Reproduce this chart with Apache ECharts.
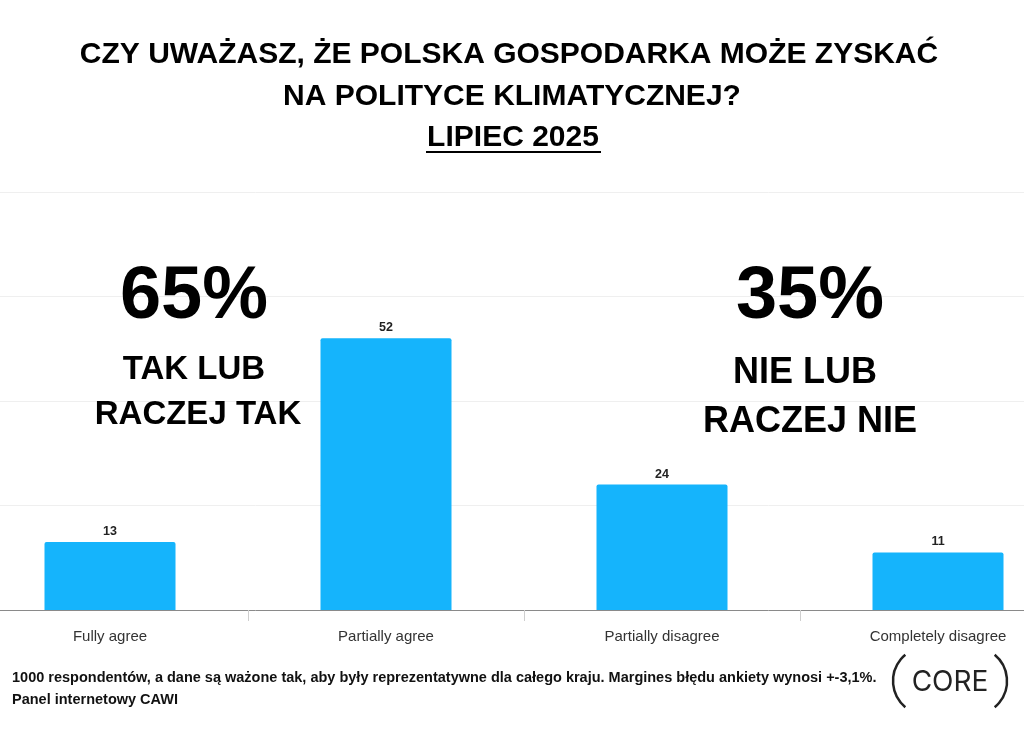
<!DOCTYPE html>
<html>
<head>
<meta charset="utf-8">
<script src="https://cdn.jsdelivr.net/npm/echarts@6/dist/echarts.min.js"></script>
<style>
  html, body { margin: 0; padding: 0; background: #fff; }
  #chart { width: 1024px; height: 734px; }
</style>
</head>
<body>
<div id="chart"></div>
<script>
// odpowiedzi i wartości (%)
var categories = ['Fully agree', 'Partially agree', 'Partially disagree', 'Completely disagree'];
var values = [13, 52, 24, 11];
var titleLines = ['CZY UWAŻASZ, ŻE POLSKA GOSPODARKA MOŻE ZYSKAĆ', 'NA POLITYCE KLIMATYCZNEJ?', 'LIPIEC 2025'];
var leftSummary = ['65%', 'TAK LUB', 'RACZEJ TAK'];
var rightSummary = ['35%', 'NIE LUB', 'RACZEJ NIE'];
var footerLines = ['1000 respondentów, a dane są ważone tak, aby były reprezentatywne dla całego kraju. Margines błędu ankiety wynosi +-3,1%.', 'Panel internetowy CAWI'];
var brand = 'CORE';

var FONT = '"Liberation Sans", Arial, sans-serif';

function textEl(txt, x, y, size, align) {
    return {
        type: 'text',
        x: x,
        y: y,
        style: {
            text: txt,
            fill: '#000',
            fontSize: size,
            fontWeight: 'bold',
            fontFamily: FONT,
            textAlign: align || 'center',
            textVerticalAlign: 'middle'
        },
        z: 10
    };
}

var graphics = [
    textEl(titleLines[0], 509, 55, 30),
    textEl(titleLines[1], 512, 97, 30),
    textEl(titleLines[2], 513, 138, 30),
    { type: 'rect', shape: { x: 426, y: 151, width: 175, height: 2 }, style: { fill: '#000' }, z: 10 },

    textEl(leftSummary[0], 194, 298, 74),
    textEl(leftSummary[1], 194, 370, 33),
    textEl(leftSummary[2], 198, 415, 33),
    textEl(rightSummary[0], 810, 298, 74),
    textEl(rightSummary[1], 805, 373, 36),
    textEl(rightSummary[2], 810, 422, 36),

    {
        type: 'text', x: 12, y: 678,
        style: { text: footerLines[0], fill: '#111', fontSize: 14.5, fontWeight: 'bold', fontFamily: FONT, textAlign: 'left', textVerticalAlign: 'middle' }
    },
    {
        type: 'text', x: 12, y: 700,
        style: { text: footerLines[1], fill: '#111', fontSize: 14.5, fontWeight: 'bold', fontFamily: FONT, textAlign: 'left', textVerticalAlign: 'middle' }
    },

    /* logo */
    {
        type: 'text', x: 950, y: 683,
        style: { text: brand, fill: '#222', fontSize: 28, fontFamily: 'Inter', textAlign: 'center', textVerticalAlign: 'middle' }
    },
    {
        type: 'arc',
        shape: { cx: 927, cy: 681, r: 34, startAngle: Math.PI * 0.72, endAngle: Math.PI * 1.28 },
        style: { stroke: '#222', lineWidth: 2.5, fill: null }
    },
    {
        type: 'arc',
        shape: { cx: 973, cy: 681, r: 34, startAngle: -Math.PI * 0.28, endAngle: Math.PI * 0.28 },
        style: { stroke: '#222', lineWidth: 2.5, fill: null }
    }
];

var myChart = echarts.init(document.getElementById('chart'));
var option = {
    animation: false,
    backgroundColor: '#fff',
    grid: { left: -28, right: -52, top: 192, bottom: 124, outerBoundsMode: 'none', containLabel: false },
    xAxis: {
        type: 'category',
        data: categories,
        axisLine: { lineStyle: { color: '#8a8a8a', width: 1 } },
        axisTick: { show: true, length: 11, lineStyle: { color: '#cfcfcf' } },
        axisLabel: { color: '#333', fontSize: 15, fontFamily: FONT, margin: 19 }
    },
    yAxis: {
        type: 'value',
        min: 0,
        max: 80,
        interval: 20,
        axisLabel: { show: false },
        axisLine: { show: false },
        axisTick: { show: false },
        splitLine: { lineStyle: { color: '#efefef', width: 1 } }
    },
    series: [{
        type: 'bar',
        data: values,
        barWidth: 131,
        itemStyle: { color: '#15B4FC', borderRadius: [2, 2, 0, 0] },
        label: {
            show: true,
            position: 'top',
            distance: 4,
            color: '#222',
            fontSize: 12.5,
            fontWeight: 'bold',
            fontFamily: FONT
        }
    }],
    graphic: graphics
};
myChart.setOption(option);
</script>
</body>
</html>
